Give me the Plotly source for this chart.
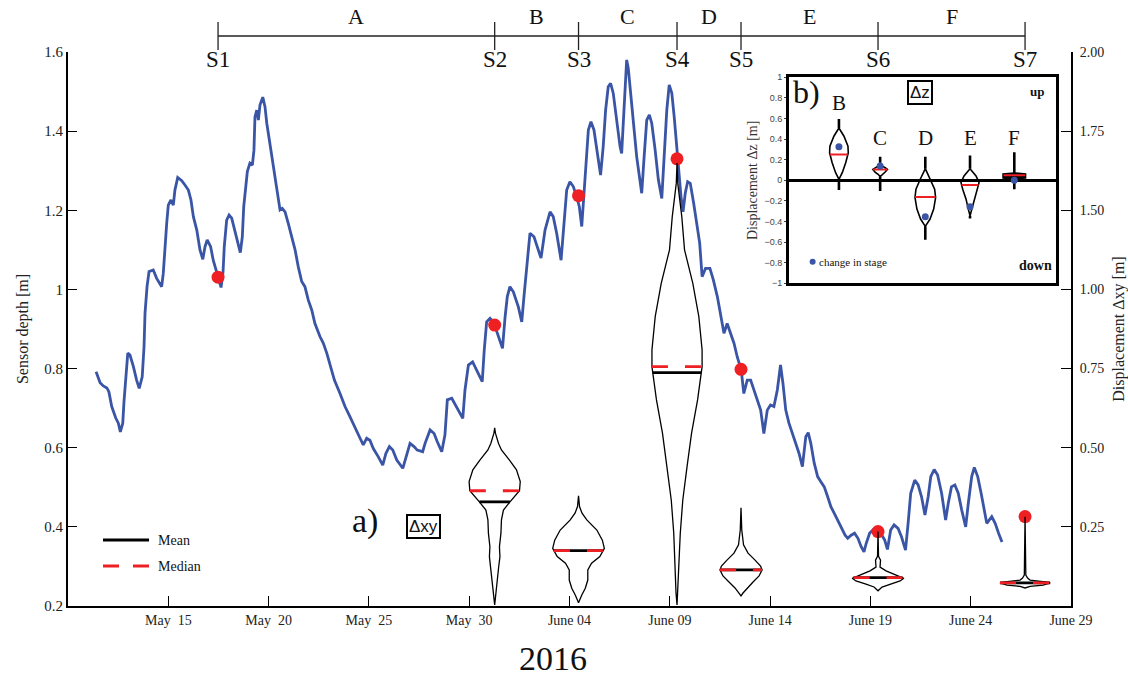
import numpy as np
import pandas as pd
import plotly.graph_objects as go

SERIF = "Liberation Serif, Times New Roman, serif"
SANS = "Liberation Sans, Arial, sans-serif"
BLUE = "#3A55A5"
RED = "#EE2024"

# ---------------------------------------------------------------------------
# Sensor depth record (day counted from 1 May 2016, 1.0 = 1 May 00:00; depth in m)
day = [
    11.40, 11.60, 11.76, 11.94, 12.04, 12.18, 12.38, 12.51, 12.61, 12.73,
    12.79, 12.88, 12.98, 13.09, 13.26, 13.42, 13.55, 13.70, 13.79, 13.84,
    13.94, 14.04, 14.25, 14.42, 14.54, 14.67, 14.75, 14.84, 14.92, 15.00,
    15.13, 15.25, 15.33, 15.47, 15.67, 15.83, 16.00, 16.13, 16.25, 16.42,
    16.58, 16.72, 16.83, 16.94, 17.11, 17.24, 17.41, 17.53, 17.63, 17.73,
    17.79, 17.91, 18.03, 18.16, 18.32, 18.46, 18.59, 18.69, 18.76, 18.94,
    19.07, 19.19, 19.27, 19.32, 19.41, 19.49, 19.57, 19.71, 19.82, 19.91,
    20.07, 20.24, 20.41, 20.57, 20.68, 20.82, 20.98, 21.15, 21.32, 21.48,
    21.65, 21.81, 21.98, 22.15, 22.31, 22.56, 22.73, 22.90, 23.06, 23.28,
    23.56, 23.81, 24.06, 24.31, 24.56, 24.72, 24.89, 25.05, 25.22, 25.47,
    25.69, 25.85, 26.02, 26.19, 26.39, 26.69, 26.85, 27.05, 27.25, 27.41,
    27.68, 27.80, 28.05, 28.25, 28.41, 28.63, 28.79, 28.91, 29.13, 29.34,
    29.51, 29.68, 29.79, 29.96, 30.17, 30.37, 30.54, 30.65, 30.75, 30.87,
    31.04, 31.21, 31.46, 31.66, 31.79, 31.90, 32.03, 32.20, 32.45, 32.62,
    32.73, 32.87, 33.03, 33.23, 33.45, 33.58, 33.78, 34.03, 34.19, 34.36,
    34.58, 34.73, 34.86, 35.02, 35.19, 35.36,
    35.49, 35.61, 35.72, 35.82, 35.94, 36.07, 36.22, 36.39, 36.55, 36.68,
    36.80, 36.93, 37.05, 37.18, 37.35, 37.52, 37.60, 37.68, 37.77, 37.85,
    37.93, 38.02, 38.19, 38.35, 38.48, 38.60, 38.72, 38.85, 38.98, 39.10,
    39.27, 39.43, 39.60, 39.72, 39.85, 39.97, 40.10, 40.22, 40.36, 40.46,
    40.56, 40.66, 40.77, 40.89, 41.02, 41.19, 41.36, 41.49, 41.61, 41.78,
    42.00, 42.17, 42.37, 42.53, 42.70, 42.86, 43.03, 43.20, 43.36, 43.56,
    43.69, 43.86, 44.03, 44.19, 44.36, 44.53, 44.69, 44.86, 45.02, 45.19,
    45.36, 45.52, 45.64, 45.78, 45.94, 46.11, 46.28, 46.44, 46.61,
    46.69, 46.78, 46.90, 47.03, 47.20, 47.37, 47.53, 47.70, 47.87, 48.03,
    48.20, 48.37, 48.54, 48.74, 48.87, 49.04, 49.21, 49.38, 49.54, 49.68,
    49.79, 49.96, 50.12, 50.29, 50.46, 50.63, 50.71, 50.85, 51.01, 51.18,
    51.38, 51.55, 51.75, 51.88, 52.01, 52.21, 52.38, 52.55, 52.72, 52.88,
    53.01, 53.18, 53.35, 53.55, 53.75, 53.88, 54.04, 54.21, 54.38, 54.55,
    54.75, 54.88, 55.05, 55.18, 55.35, 55.52, 55.69, 55.80, 56.05, 56.22,
    56.39, 56.56,
]
depth = [
    0.792, 0.764, 0.756, 0.751, 0.741, 0.704, 0.675, 0.662, 0.640, 0.662,
    0.716, 0.779, 0.839, 0.834, 0.805, 0.771, 0.750, 0.779, 0.855, 0.940,
    1.007, 1.045, 1.049, 1.028, 1.016, 1.007, 1.041, 1.117, 1.167, 1.213,
    1.226, 1.213, 1.251, 1.283, 1.275, 1.264, 1.251, 1.226, 1.184, 1.150,
    1.100, 1.076, 1.108, 1.125, 1.108, 1.074, 1.045, 1.020, 1.005, 1.045,
    1.108, 1.175, 1.188, 1.180, 1.150, 1.121, 1.093, 1.133, 1.209, 1.298,
    1.319, 1.314, 1.352, 1.436, 1.453, 1.428, 1.466, 1.486, 1.462, 1.420,
    1.369, 1.314, 1.260, 1.201, 1.205, 1.196, 1.167, 1.133, 1.100, 1.057,
    1.020, 1.007, 0.973, 0.948, 0.914, 0.881, 0.864, 0.839, 0.813, 0.771,
    0.737, 0.704, 0.678, 0.653, 0.624, 0.607, 0.624, 0.619, 0.598, 0.577,
    0.556, 0.586, 0.603, 0.594, 0.569, 0.548, 0.577, 0.611, 0.603, 0.594,
    0.590, 0.611, 0.645, 0.636, 0.615, 0.590, 0.632, 0.721, 0.725, 0.704,
    0.687, 0.674, 0.746, 0.809, 0.817, 0.796, 0.775, 0.767, 0.847, 0.918,
    0.927, 0.918, 0.881, 0.851, 0.931, 0.982, 1.007, 0.994, 0.956, 0.918,
    0.982, 1.066, 1.142, 1.133, 1.100, 1.079, 1.150, 1.196, 1.184, 1.142,
    1.074, 1.175, 1.251, 1.272, 1.260, 1.234,
    1.209, 1.159, 1.243, 1.335, 1.403, 1.424, 1.403, 1.344, 1.289, 1.361,
    1.453, 1.512, 1.521, 1.496, 1.428, 1.361, 1.344, 1.420, 1.538, 1.580,
    1.559, 1.504, 1.420, 1.335, 1.285, 1.243, 1.335, 1.428, 1.441, 1.420,
    1.352, 1.277, 1.230, 1.327, 1.453, 1.517, 1.496, 1.436, 1.352, 1.293,
    1.234, 1.196, 1.243, 1.272, 1.268, 1.218, 1.159, 1.117, 1.032, 1.053,
    1.053, 1.024, 0.982, 0.940, 0.889, 0.914, 0.889, 0.864, 0.830, 0.796,
    0.737, 0.771, 0.771, 0.746, 0.721, 0.695, 0.636, 0.695, 0.708, 0.704,
    0.746, 0.809, 0.763, 0.695, 0.662, 0.636, 0.611, 0.586, 0.552,
    0.594, 0.628, 0.638, 0.611, 0.561, 0.527, 0.514, 0.501, 0.476, 0.451,
    0.434, 0.417, 0.400, 0.379, 0.371, 0.379, 0.384, 0.371, 0.350, 0.337,
    0.358, 0.384, 0.392, 0.379, 0.388, 0.374, 0.367, 0.343, 0.392, 0.405,
    0.396, 0.375, 0.341, 0.409, 0.485, 0.518, 0.506, 0.476, 0.430, 0.476,
    0.527, 0.545, 0.531, 0.485, 0.417, 0.459, 0.501, 0.506, 0.485, 0.443,
    0.400, 0.459, 0.527, 0.550, 0.527, 0.485, 0.443, 0.409, 0.426, 0.409,
    0.384, 0.362,
]

# Survey stages S1..S7 and the periods between them
stage_names = ["S1", "S2", "S3", "S4", "S5", "S6", "S7"]
stage_day = [17.48, 31.27, 35.45, 40.36, 43.55, 50.38, 57.71]
stage_depth = [1.031, 0.910, 1.237, 1.330, 0.798, 0.388, 0.426]
period_names = ["A", "B", "C", "D", "E", "F"]

# Horizontal displacement Δxy distributions at S2..S7 (level in m, relative density)
dxy_level = [
    [0.563, 0.546, 0.514, 0.493, 0.461, 0.430, 0.393, 0.364, 0.329, 0.303,
     0.272, 0.230, 0.187, 0.156, 0.124, 0.082, 0.040, 0.003],
    [0.348, 0.314, 0.293, 0.272, 0.240, 0.208, 0.182, 0.156, 0.135, 0.114,
     0.082, 0.056, 0.035, 0.010],
    [1.399, 1.335, 1.230, 1.125, 1.019, 0.914, 0.809, 0.756, 0.651, 0.546,
     0.440, 0.335, 0.230, 0.124, 0.041, 0.003],
    [0.310, 0.240, 0.193, 0.167, 0.145, 0.126, 0.114, 0.095, 0.076, 0.057,
     0.041, 0.032],
    [0.235, 0.157, 0.145, 0.133, 0.123, 0.111, 0.098, 0.0875, 0.079, 0.069,
     0.060, 0.048],
    [0.282, 0.098, 0.088, 0.082, 0.076, 0.073, 0.066, 0.062, 0.057],
]
dxy_density = [
    [0, 0.03, 0.15, 0.27, 0.59, 0.87, 1.02, 0.99, 0.61, 0.35,
     0.27, 0.25, 0.19, 0.21, 0.16, 0.11, 0.05, 0],
    [0, 0.04, 0.14, 0.33, 0.73, 0.95, 1.03, 0.85, 0.52, 0.37,
     0.37, 0.27, 0.13, 0],
    [0, 0.03, 0.19, 0.30, 0.63, 0.87, 1.0, 1.0, 0.82, 0.58,
     0.40, 0.23, 0.13, 0.08, 0.04, 0],
    [0, 0.03, 0.10, 0.28, 0.56, 0.78, 0.84, 0.72, 0.48, 0.24, 0.08, 0],
    [0, 0.02, 0.10, 0.10, 0.08, 0.32, 0.72, 1.03, 0.88, 0.48, 0.16, 0],
    [0, 0.03, 0.10, 0.20, 0.80, 1.0, 0.72, 0.20, 0],
]
dxy_mean = [0.329, 0.175, 0.737, 0.114, 0.0894, 0.073]
dxy_median = [0.364, 0.175, 0.756, 0.114, 0.0894, 0.073]

# Vertical displacement Δz per period B..F
dz_names = ["B", "C", "D", "E", "F"]
dz_pos = [1.0, 1.94, 2.97, 3.99, 5.0]
dz_level = [
    [0.508, 0.428, 0.331, 0.267, 0.170, 0.074, 0.010],
    [0.170, 0.145, 0.122, 0.106, 0.080, 0.058, 0.035],
    [0.113, 0.010, -0.087, -0.167, -0.280, -0.376, -0.447],
    [0.113, 0.042, -0.023, -0.087, -0.183, -0.280, -0.344],
    [0.066, 0.058, 0.026, 0.018],
]
dz_density = [
    [0, 0.47, 0.84, 0.87, 0.63, 0.31, 0],
    [0, 0.09, 0.47, 0.68, 0.47, 0.19, 0],
    [0, 0.47, 0.87, 0.96, 0.78, 0.44, 0],
    [0, 0.56, 0.84, 0.68, 0.37, 0.16, 0],
    [0, 1.0, 1.0, 0],
]
dz_top = [0.595, 0.228, 0.228, 0.241, 0.273]
dz_bottom = [-0.093, -0.103, -0.576, -0.37, -0.087]
dz_median = [0.250, 0.106, -0.161, -0.045, 0.048]
dz_stage_change = [0.325, 0.138, -0.354, -0.257, 0.0]

x_tickvals = ["2016-05-15", "2016-05-20", "2016-05-25", "2016-05-30", "2016-06-04",
              "2016-06-09", "2016-06-14", "2016-06-19", "2016-06-24", "2016-06-29"]
x_ticktext = ["May\u00a0\u00a015", "May\u00a0\u00a020", "May\u00a0\u00a025", "May\u00a0\u00a030",
              "June 04", "June 09", "June 14", "June 19", "June 24", "June 29"]
depth_ticks = [0.2, 0.4, 0.6, 0.8, 1.0, 1.2, 1.4, 1.6]
depth_ticktext = ["0.2", "0.4", "0.6", "0.8", "1", "1.2", "1.4", "1.6"]
dxy_ticks = [0.25, 0.50, 0.75, 1.00, 1.25, 1.50, 1.75]
dxy_ticktext = ["0.25", "0.50", "0.75", "1.00", "1.50", "1.75", "2.00"]
dz_ticks = [1.0, 0.8, 0.6, 0.4, 0.2, 0.0, -0.2, -0.4, -0.6, -0.8, -1.0]
dz_ticktext = ["1", "0.8", "0.6", "0.4", "0.2", "0", "\u22120.2", "\u22120.4",
               "\u22120.6", "\u22120.8", "\u22121"]

# ---------------------------------------------------------------------------
ORIGIN = pd.Timestamp("2016-05-01")


def to_time(d):
    return ORIGIN + pd.to_timedelta(np.asarray(d, dtype=float) - 1.0, unit="D")


def tstr(d):
    return (ORIGIN + pd.Timedelta(days=float(d) - 1.0)).strftime("%Y-%m-%d %H:%M:%S")


VIOLIN_HALF_DAYS = 1.25     # half width (days) of a violin at density 1
INSET_HALF = 0.245          # half width (inset x units) at density 1

fig = go.Figure()

# sensor depth
fig.add_trace(go.Scatter(x=to_time(day), y=depth, mode="lines",
                         line=dict(color=BLUE, width=2.8), xaxis="x", yaxis="y",
                         hoverinfo="skip"))

# Δxy violins at S2..S7
for k in range(6):
    c = stage_day[k + 1]
    lev = np.array(dxy_level[k])
    den = np.array(dxy_density[k]) * VIOLIN_HALF_DAYS
    xs = np.concatenate([c + den, (c - den)[::-1]])
    ys = np.concatenate([lev, lev[::-1]])
    fig.add_trace(go.Scatter(x=to_time(xs), y=ys, mode="lines",
                             line=dict(color="black", width=1.3),
                             xaxis="x", yaxis="y2", hoverinfo="skip"))
    for val, col, dash in ((dxy_mean[k], "black", "solid"),
                           (dxy_median[k], RED, "16px,17px")):
        hw = np.interp(val, lev[::-1], den[::-1])
        fig.add_trace(go.Scatter(x=to_time([c - hw, c + hw]), y=[val, val], mode="lines",
                                 line=dict(color=col, width=2.8, dash=dash),
                                 xaxis="x", yaxis="y2", hoverinfo="skip"))

# stage markers on the depth record
fig.add_trace(go.Scatter(x=to_time(stage_day), y=stage_depth, mode="markers",
                         marker=dict(color=RED, size=13), xaxis="x", yaxis="y",
                         hoverinfo="skip"))

# inset: Δz violins
for k in range(5):
    c = dz_pos[k]
    lev = np.array(dz_level[k])
    den = np.array(dz_density[k]) * INSET_HALF
    fig.add_trace(go.Scatter(x=[c, c], y=[dz_top[k], lev[0]], mode="lines",
                             line=dict(color="black", width=2.6),
                             xaxis="x3", yaxis="y3", hoverinfo="skip"))
    fig.add_trace(go.Scatter(x=[c, c], y=[lev[-1], dz_bottom[k]], mode="lines",
                             line=dict(color="black", width=2.6),
                             xaxis="x3", yaxis="y3", hoverinfo="skip"))
    xs = np.concatenate([c + den, (c - den)[::-1], [c + den[0]]])
    ys = np.concatenate([lev, lev[::-1], [lev[0]]])
    fig.add_trace(go.Scatter(x=xs, y=ys, mode="lines",
                             line=dict(color="black", width=1.6 if k < 4 else 2.6),
                             fill="toself" if k == 4 else None,
                             fillcolor="black",
                             xaxis="x3", yaxis="y3", hoverinfo="skip"))
    hw = np.interp(dz_median[k], lev[::-1], den[::-1])
    fig.add_trace(go.Scatter(x=[c - hw, c + hw], y=[dz_median[k]] * 2, mode="lines",
                             line=dict(color=RED, width=2),
                             xaxis="x3", yaxis="y3", hoverinfo="skip"))
fig.add_trace(go.Scatter(x=dz_pos, y=dz_stage_change, mode="markers",
                         marker=dict(color=BLUE, size=7),
                         xaxis="x3", yaxis="y3", hoverinfo="skip"))
fig.add_trace(go.Scatter(x=[0.40], y=[-0.79], mode="markers",
                         marker=dict(color=BLUE, size=6),
                         xaxis="x3", yaxis="y3", hoverinfo="skip"))

# ---------------------------------------------------------------------------
shapes = []
annotations = []


def label(x, y, text, size, family=SERIF, xref="paper", yref="paper", xanchor="center", **kw):
    annotations.append(dict(x=x, y=y, xref=xref, yref=yref, text=text, showarrow=False,
                            xanchor=xanchor, yanchor="middle",
                            font=dict(family=family, size=size, color="#111"), **kw))


# stage timeline above the plot
BAR_Y, TICK_LO, TICK_HI = 1.0289, 1.0036, 1.0542
shapes.append(dict(type="line", xref="x", yref="paper",
                   x0=tstr(stage_day[0]), x1=tstr(stage_day[-1]), y0=BAR_Y, y1=BAR_Y,
                   line=dict(color="#222", width=1.3)))
for name, d in zip(stage_names, stage_day):
    shapes.append(dict(type="line", xref="x", yref="paper", x0=tstr(d), x1=tstr(d),
                       y0=TICK_LO, y1=TICK_HI, line=dict(color="#222", width=1.3)))
    label(tstr(d), 0.9856, name, 23, xref="x")
for i, name in enumerate(period_names):
    mid = 0.5 * (stage_day[i] + stage_day[i + 1])
    label(tstr(mid), 1.0632, name, 22, xref="x")

# legend for the Δxy violins
shapes.append(dict(type="line", xref="paper", yref="paper", x0=0.0349, x1=0.0808,
                   y0=0.1191, y1=0.1191, line=dict(color="black", width=2.8)))
shapes.append(dict(type="line", xref="paper", yref="paper", x0=0.0349, x1=0.0808,
                   y0=0.0722, y1=0.0722, line=dict(color=RED, width=2.8, dash="16px,14px")))
label(0.0877, 0.1191, "Mean", 14, xanchor="left")
label(0.0877, 0.0722, "Median", 14, xanchor="left")

# panel labels
label(0.2961, 0.1534, "a)", 34)
label(0.3549, 0.1426, "\u0394xy", 17, family=SANS,
      bordercolor="black", borderwidth=2, borderpad=1, bgcolor="white")
label(0.4836, -0.094, "2016", 34)

# inset texts
label(0.265, 0.861, "b)", 32, xref="x3", yref="y3")
for k, name in enumerate(dz_names):
    label(dz_pos[k], 0.749 if k == 0 else 0.412, name, 21, xref="x3", yref="y3")
label(2.854, 0.851, "\u0394z", 17, family=SANS, xref="x3", yref="y3",
      bordercolor="black", borderwidth=2, borderpad=1, bgcolor="white")
label(5.52, 0.861, "<b>up</b>", 13, xref="x3", yref="y3")
label(5.48, -0.826, "<b>down</b>", 14, xref="x3", yref="y3")
label(0.50, -0.79, "change in stage", 11, xref="x3", yref="y3", xanchor="left")

fig.update_layout(
    width=1128, height=677,
    margin=dict(l=68, r=57, t=52, b=71, autoexpand=False),
    paper_bgcolor="white", plot_bgcolor="white",
    showlegend=False,
    font=dict(family=SERIF, color="#111"),
    xaxis=dict(type="date", range=["2016-05-10", "2016-06-29"], domain=[0, 1],
               tickmode="array", tickvals=x_tickvals, ticktext=x_ticktext,
               ticks="inside", ticklen=10, tickwidth=1.3, tickcolor="black",
               showline=True, linecolor="black", linewidth=2, showgrid=False,
               zeroline=False, tickfont=dict(family=SERIF, size=14, color="#222"),
               anchor="y", automargin=False),
    yaxis=dict(range=[0.2, 1.6], domain=[0, 1], tickmode="array", tickvals=depth_ticks,
               ticktext=depth_ticktext, ticks="inside", ticklen=9, tickwidth=1.3,
               tickcolor="black", showline=True, linecolor="black", linewidth=2,
               showgrid=False, zeroline=False, automargin=False,
               tickfont=dict(family=SERIF, size=15, color="#222"),
               title=dict(text="Sensor depth [m]", font=dict(family=SERIF, size=16, color="#222"),
                          standoff=12)),
    yaxis2=dict(range=[0, 1.75], overlaying="y", side="right", anchor="x",
                tickmode="array", tickvals=dxy_ticks, ticktext=dxy_ticktext,
                ticks="inside", ticklen=10, tickwidth=1.3, tickcolor="black",
                showline=True, linecolor="black", linewidth=2, showgrid=False,
                zeroline=False, automargin=False,
                tickfont=dict(family=SERIF, size=14, color="#222"),
                ticklabelstandoff=4,
                title=dict(text="Displacement \u0394xy [m]",
                           font=dict(family=SERIF, size=16, color="#222"), standoff=13)),
    xaxis3=dict(domain=[0.7188, 0.985], anchor="y3", range=[-0.14, 5.95],
                showticklabels=False, ticks="", showgrid=False, zeroline=False,
                automargin=False,
                showline=True, mirror=True, linecolor="black", linewidth=2.6),
    yaxis3=dict(domain=[0.5825, 0.9543], anchor="x3", range=[-1, 1],
                tickmode="array", tickvals=dz_ticks, ticktext=dz_ticktext,
                ticks="outside", ticklen=2, tickcolor="#444", showgrid=False,
                zeroline=True, zerolinecolor="black", zerolinewidth=2.6,
                showline=True, mirror=True, linecolor="black", linewidth=2.6,
                automargin=False,
                tickfont=dict(family=SANS, size=9, color="#444"),
                title=dict(text="Displacement \u0394z [m]",
                           font=dict(family=SERIF, size=14, color="#333"), standoff=4)),
    shapes=shapes,
    annotations=annotations,
)

fig.write_html("out.html")
